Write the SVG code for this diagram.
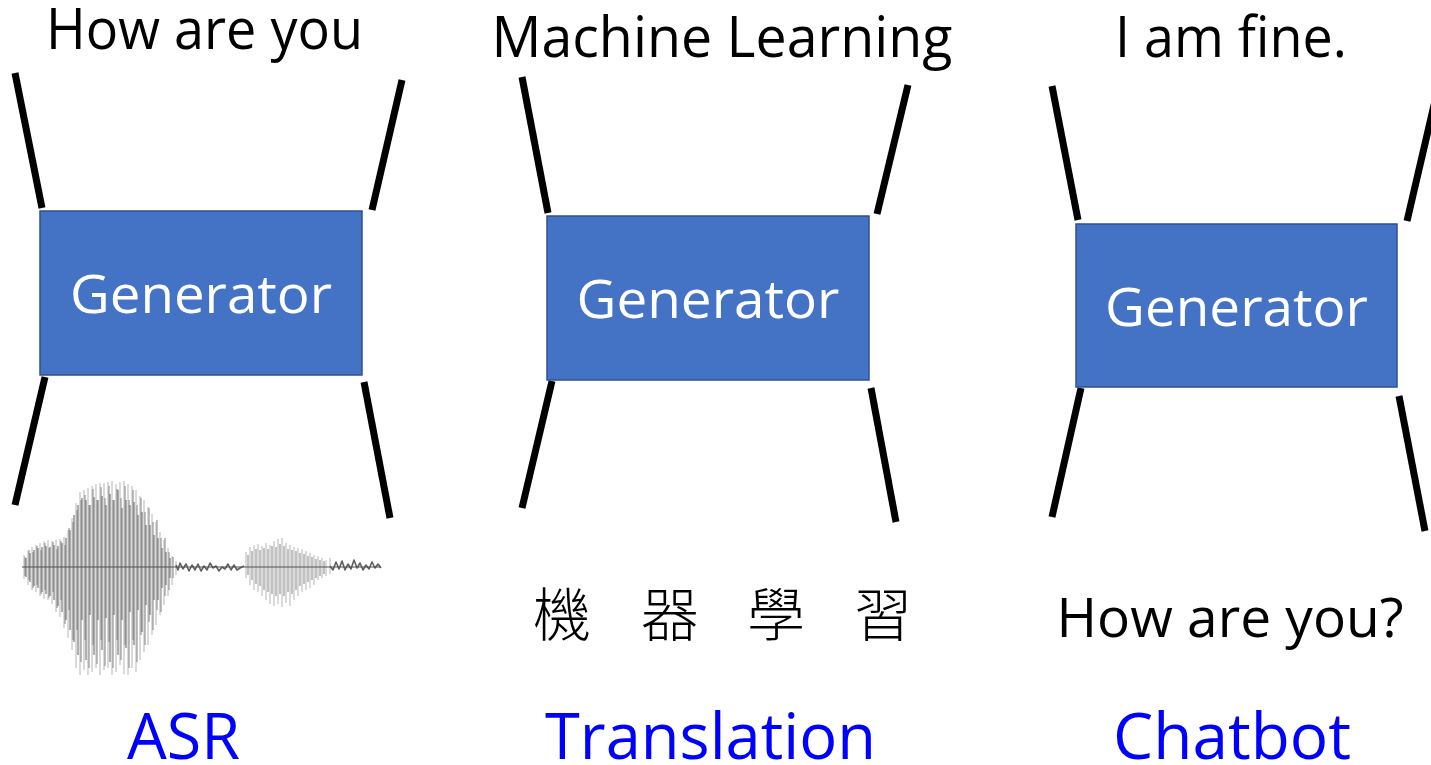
<svg xmlns="http://www.w3.org/2000/svg" width="1431" height="765" viewBox="0 0 1431 765">
  <style>
    .txt { font-family: "Open Sans", "Noto Sans", "Liberation Sans", sans-serif; fill: #000; text-anchor: middle; }
    .gen { font-family: "Open Sans", "Noto Sans", "Liberation Sans", sans-serif; fill: #fff; font-size: 53px; text-anchor: middle; }
    .task { font-family: "Open Sans", "Noto Sans", "Liberation Sans", sans-serif; fill: #0000ff; font-size: 64px; text-anchor: middle; }
    .cjk { font-family: "Noto Sans CJK TC", "Noto Sans CJK SC", sans-serif; fill: #000; font-size: 58px; font-weight: 300; text-anchor: middle; }
    .box { fill: #4472c4; stroke: #2f528f; stroke-width: 1.5; }
    .bar { stroke: #000; stroke-width: 7; fill: none; }
    .wl { stroke: #c2c2c2; stroke-width: 1.2; fill: none; }
    .wm { stroke: #8f8f8f; stroke-width: 1.1; fill: none; }
    .wd { stroke: #5e5e5e; stroke-width: 1; fill: none; }
    .wn { stroke: #606060; stroke-width: 1.6; fill: none; stroke-linejoin: round; }
  </style>

  <!-- funnel strokes leading into and out of each generator -->
  <g id="connectors">
    <line class="bar" x1="15" y1="73" x2="42" y2="208"/>
    <line class="bar" x1="402" y1="80" x2="372" y2="210"/>
    <line class="bar" x1="45" y1="377" x2="15" y2="505"/>
    <line class="bar" x1="364" y1="382" x2="390" y2="518"/>

    <line class="bar" x1="522" y1="77" x2="548" y2="213"/>
    <line class="bar" x1="908" y1="85" x2="877" y2="214"/>
    <line class="bar" x1="552" y1="381" x2="522" y2="508"/>
    <line class="bar" x1="871" y1="388" x2="896" y2="522"/>

    <line class="bar" x1="1052" y1="86" x2="1078" y2="220"/>
    <line class="bar" x1="1438" y1="88" x2="1407" y2="221"/>
    <line class="bar" x1="1081" y1="388" x2="1052" y2="517"/>
    <line class="bar" x1="1399" y1="396" x2="1425" y2="531"/>
  </g>

  <!-- ASR column -->
  <g id="asr-output">
    <text class="txt" x="204.5" y="49" font-size="57" textLength="317" lengthAdjust="spacingAndGlyphs">How are you</text>
  </g>
  <g id="asr-generator">
    <rect class="box" x="40" y="211" width="322" height="164"/>
    <text class="gen" x="201" y="313" textLength="262" lengthAdjust="spacingAndGlyphs">Generator</text>
  </g>
  <g id="asr-input">
    <!-- speech waveform: light outer envelope, mid strokes, dark inner strokes -->
    <path class="wl" d="M24 555V579M28 551V585M32 547V590M36 545V592M40 543V596M44 541V599M48 540V600M52 541V604M56 540V612M60 539V617M64 537V628M68 530V638M72 518V650M76 503V668M80 492V675M84 490V670M88 488V675M92 486V672M96 484V668M100 483V675M104 483V670M108 482V668M112 481V675M116 484V672M120 482V665M124 481V674M128 484V675M132 486V668M136 490V672M140 496V660M144 500V652M148 507V645M152 514V635M156 522V625M160 532V615M164 540V605M168 548V596M172 556V585M176 561V575"/>
    <path class="wm" d="M25 557V576M29 550V580M33 552V588M37 546V585M41 550V594M45 543V590M49 548V598M53 542V592M57 549V608M61 541V600M65 545V624M69 528V610M73 522V640M77 510V630M81 500V662M85 495V640M89 505V668M93 489V645M97 500V664M101 487V640M105 498V666M109 486V642M113 500V668M117 489V640M121 498V660M125 486V645M129 500V668M133 490V640M137 505V662M141 498V635M145 512V645M149 508V622M153 522V630M157 520V610M161 538V612M165 538V596M169 552V590M173 557V578"/>
    <path class="wd" d="M26 558V577M30 553V582M34 550V586M38 548V588M42 547V592M46 546V594M50 547V596M54 545V600M58 546V606M62 543V612M66 538V620M70 530V630M74 515V642M78 505V655M82 498V620M86 500V660M90 505V615M94 497V655M98 500V620M102 496V650M106 505V618M110 494V662M114 500V615M118 490V655M122 508V620M126 500V648M130 505V612M134 502V645M138 515V610M142 512V632M146 525V605M150 525V615M154 535V600M158 538V600M162 548V588M166 552V585M170 558V578"/>
    <polyline class="wn" points="176,565 178,570 180,563 183,569 186,564 189,571 192,565 195,570 198,564 201,571 204,566 207,570 210,563 213,568 216,566 219,571 222,567 225,569 228,564 231,570 234,565 237,570 240,568 244,566"/>
    <path class="wl" d="M246 552V578M250 547V585M254 545V590M258 544V592M262 546V596M266 543V600M270 545V604M274 541V606M278 539V604M282 538V607M286 543V603M290 545V606M294 547V600M298 548V596M302 549V592M306 551V590M310 553V588M314 555V585M318 556V580M322 558V578M326 560V576M330 558V574"/>
    <path class="wm" d="M248 555V575M252 551V580M256 549V584M260 550V586M264 548V590M268 549V592M272 546V594M276 547V596M280 544V594M284 546V596M288 549V592M292 550V594M296 551V590M300 553V586M304 554V584M308 556V582M312 557V580M316 559V578M320 560V576M324 561V574"/>
    <polyline class="wn" points="330,566 333,570 336,562 339,569 342,561 345,570 348,564 351,569 354,560 357,568 360,563 363,570 366,565 369,569 372,562 375,568 378,564 381,568"/>
    <line x1="22" y1="567" x2="381" y2="567" stroke="#505050" stroke-width="1.2"/>
  </g>
  <g id="asr-label">
    <text class="task" x="183.5" y="759" textLength="113" lengthAdjust="spacingAndGlyphs">ASR</text>
  </g>

  <!-- Translation column -->
  <g id="translation-output">
    <text class="txt" x="722" y="57" font-size="57" textLength="461" lengthAdjust="spacingAndGlyphs">Machine Learning</text>
  </g>
  <g id="translation-generator">
    <rect class="box" x="547" y="216" width="322" height="164"/>
    <text class="gen" x="708" y="318" textLength="263" lengthAdjust="spacingAndGlyphs">Generator</text>
  </g>
  <g id="translation-input">
    <text class="cjk" x="562" y="636">機</text>
    <text class="cjk" x="670" y="636">器</text>
    <text class="cjk" x="776" y="636">學</text>
    <text class="cjk" x="883" y="636">習</text>
  </g>
  <g id="translation-label">
    <text class="task" x="710.5" y="759" textLength="331" lengthAdjust="spacingAndGlyphs">Translation</text>
  </g>

  <!-- Chatbot column -->
  <g id="chatbot-output">
    <text class="txt" x="1231" y="57" font-size="57" textLength="232" lengthAdjust="spacingAndGlyphs">I am fine.</text>
  </g>
  <g id="chatbot-generator">
    <rect class="box" x="1076" y="224" width="321" height="163"/>
    <text class="gen" x="1236.5" y="326" textLength="263" lengthAdjust="spacingAndGlyphs">Generator</text>
  </g>
  <g id="chatbot-input">
    <text class="txt" x="1230" y="637" font-size="55" textLength="347" lengthAdjust="spacingAndGlyphs">How are you?</text>
  </g>
  <g id="chatbot-label">
    <text class="task" x="1232" y="759" textLength="238" lengthAdjust="spacingAndGlyphs">Chatbot</text>
  </g>
</svg>
